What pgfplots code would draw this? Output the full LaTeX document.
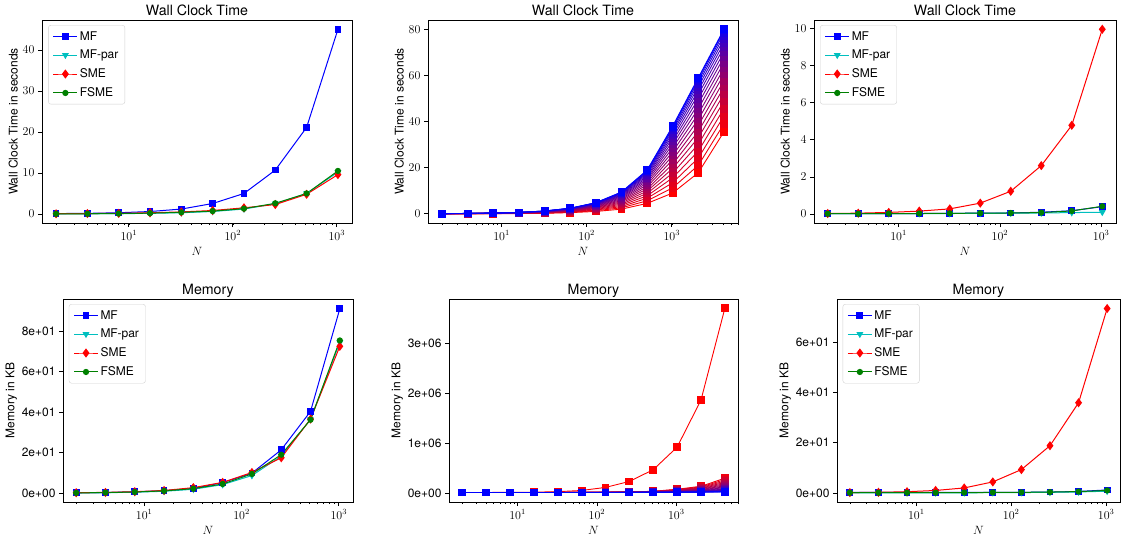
\documentclass[border=0pt]{standalone}
\usepackage{fontspec}
\setmainfont{TeX Gyre Heros}
\usepackage{pgfplots}
\usepackage{pgfplotstable}
\pgfplotsset{compat=1.18}

\definecolor{mplcyan}{RGB}{0,191,191}
\definecolor{mplgreen}{RGB}{0,128,0}

% N  MF  MF-par  SME  FSME
\pgfplotstableread{
N    MF    MFpar SME   FSME
2    0.10  0.02  0.05  0.03
4    0.15  0.04  0.10  0.05
8    0.30  0.08  0.15  0.10
16   0.60  0.15  0.30  0.20
32   1.20  0.30  0.50  0.40
64   2.55  0.60  0.85  0.70
128  5.00  1.20  1.50  1.30
256  10.7  2.50  2.30  2.60
512  21.1  5.00  4.80  5.00
1024 45.0  10.2  9.60  10.5
}\wallA

\pgfplotstableread{
N    MF    MFpar SME   FSME
2    0.02  0.02  0.03  0.02
4    0.02  0.02  0.05  0.02
8    0.03  0.02  0.09  0.03
16   0.03  0.03  0.16  0.03
32   0.04  0.03  0.28  0.04
64   0.05  0.04  0.59  0.05
128  0.06  0.05  1.23  0.06
256  0.10  0.06  2.61  0.08
512  0.18  0.08  4.78  0.17
1024 0.40  0.10  9.95  0.42
}\wallC

\pgfplotstableread{
N    MF    MFpar SME   FSME
2    0.15  0.10  0.20  0.12
4    0.30  0.20  0.35  0.25
8    0.60  0.45  0.70  0.55
16   1.20  0.90  1.30  1.10
32   2.30  1.90  2.70  2.20
64   5.20  4.20  5.30  4.50
128  9.90  8.70  10.2  9.50
256  21.4  18.3  17.5  19.0
512  40.4  36.5  36.6  36.3
1024 91.2  74.5  72.6  75.5
}\memA

\pgfplotstableread{
N    MF    MFpar SME   FSME
2    0.20  0.05  0.15  0.10
4    0.20  0.05  0.25  0.10
8    0.20  0.05  0.50  0.10
16   0.20  0.06  1.00  0.10
32   0.20  0.07  2.00  0.15
64   0.25  0.10  4.40  0.20
128  0.25  0.15  9.30  0.25
256  0.35  0.25  18.8  0.35
512  0.60  0.40  35.9  0.55
1024 1.20  0.70  73.4  1.00
}\memC

% fan of runs, c0 = red ... c19 = blue
\pgfplotstableread{
N c0 c1 c2 c3 c4 c5 c6 c7 c8 c9 c10 c11 c12 c13 c14 c15 c16 c17 c18 c19
2 0.02 0.025 0.029 0.034 0.038 0.042 0.046 0.05 0.054 0.057 0.06 0.064 0.067 0.069 0.072 0.074 0.076 0.078 0.079 0.08
4 0.03 0.04 0.05 0.06 0.07 0.07 0.08 0.09 0.10 0.10 0.11 0.12 0.12 0.13 0.13 0.14 0.14 0.15 0.15 0.15
8 0.05 0.07 0.09 0.11 0.13 0.14 0.16 0.18 0.19 0.21 0.22 0.23 0.24 0.26 0.27 0.28 0.28 0.29 0.30 0.30
16 0.10 0.14 0.18 0.21 0.25 0.28 0.32 0.35 0.38 0.41 0.44 0.46 0.49 0.51 0.53 0.55 0.57 0.58 0.59 0.60
32 0.20 0.28 0.35 0.43 0.50 0.57 0.63 0.70 0.76 0.82 0.87 0.93 0.98 1.02 1.07 1.10 1.14 1.17 1.19 1.20
64 0.50 0.65 0.79 0.93 1.07 1.20 1.33 1.45 1.56 1.67 1.78 1.88 1.97 2.06 2.14 2.22 2.28 2.34 2.38 2.40
128 1.00 1.30 1.59 1.86 2.14 2.40 2.65 2.89 3.13 3.35 3.56 3.76 3.95 4.13 4.29 4.43 4.56 4.67 4.75 4.80
256 2.00 2.58 3.14 3.68 4.21 4.72 5.21 5.69 6.14 6.57 6.99 7.38 7.74 8.09 8.40 8.68 8.93 9.15 9.31 9.40
512 4.50 5.62 6.72 7.77 8.81 9.80 10.75 11.67 12.56 13.40 14.21 14.97 15.67 16.35 16.96 17.50 17.99 18.41 18.73 18.90
1024 9.00 11.26 13.47 15.58 17.67 19.67 21.59 23.44 25.24 26.92 28.55 30.08 31.50 32.87 34.09 35.19 36.17 37.01 37.65 38.00
2048 17.80 21.01 24.15 27.15 30.12 32.96 35.68 38.32 40.87 43.26 45.57 47.75 49.77 51.71 53.44 55.00 56.40 57.60 58.51 59.00
4096 35.50 38.97 42.35 45.60 48.81 51.88 54.81 57.66 60.42 63.00 65.49 67.85 70.03 72.12 73.99 75.68 77.20 78.49 79.47 80.00
}\wallfan

\pgfplotstableread{
N c0 c1 c2 c3 c4 c5 c6 c7 c8 c9 c10 c11 c12 c13 c14 c15 c16 c17 c18 c19
2 25000 25000 25000 25000 25000 25000 25000 25000 25000 25000 25000 25000 25000 25000 25000 25000 25000 25000 25000 25000
4 26000 25000 25000 25000 25000 25000 25000 25000 25000 25000 25000 25000 25000 25000 25000 25000 25000 25000 25000 25000
8 28000 25000 25000 25000 25000 25000 25000 25000 25000 25000 25000 25000 25000 25000 25000 25000 25000 25000 25000 25000
16 32000 26000 25892 25790 25694 25605 25522 25444 25373 25309 25250 25198 25151 25111 25077 25049 25028 25012 25003 25000
32 42000 27000 26784 26580 26388 26210 26044 25888 25746 25618 25500 25396 25302 25222 25154 25098 25056 25024 25006 25000
64 66000 29000 28568 28160 27776 27420 27088 26776 26492 26236 26000 25792 25604 25444 25308 25196 25112 25048 25012 25000
128 127000 32000 31244 30530 29858 29235 28654 28108 27611 27163 26750 26386 26057 25777 25539 25343 25196 25084 25021 25000
256 246000 37000 35812 34690 33634 32655 31742 30884 30103 29399 28750 28178 27661 27221 26847 26539 26308 26132 26033 26000
512 480000 50000 47516 45170 42962 40915 39006 37212 35579 34107 32750 31554 30473 29553 28771 28127 27644 27276 27069 27000
1024 930000 90000 83520 77400 71640 66300 61320 56640 52380 48540 45000 41880 39060 36660 34620 32940 31680 30720 30180 30000
2048 1870000 150000 137472 125640 114504 104180 94552 85504 77268 69844 63000 56968 51516 46876 42932 39684 37248 35392 34348 34000
4096 3700000 310000 280840 253300 227380 203350 180940 159880 140710 123430 107500 93460 80770 69970 60790 53230 47560 43240 40810 40000
}\memfan

\pgfplotsset{
  mypanel/.style={
    scale only axis, anchor=north west,
    axis line style={black, line width=0.8pt},
    tick align=outside, tick pos=left,
    major tick length=4pt, minor tick length=2.2pt,
    major tick style={black, line width=0.8pt},
    minor tick style={black, line width=0.6pt},
    tick label style={font=\fontsize{12}{14}\selectfont},
    label style={font=\fontsize{12}{14}\selectfont},
    ylabel shift=-2pt,
    every axis title/.style={at={(0.5,1)}, anchor=base, yshift=4.5pt, font=\fontsize{14.2}{16}\selectfont},
    xlabel={$N$},
    scaled y ticks=false,
    legend cell align=left,
    legend style={at={(0.02,0.975)}, anchor=north west, draw=black!18, fill=white,
      rounded corners=2.5pt, font=\fontsize{12}{14}\selectfont, row sep=4.5pt,
      inner xsep=4.5pt, inner ysep=4pt},
    legend image code/.code={\draw[mark repeat=2,mark phase=2,##1] plot coordinates {(0pt,0pt)(12pt,0pt)(24pt,0pt)};},
  },
  sMF/.style={blue, mark=square*, mark size=2.9pt, line width=1pt},
  sMFpar/.style={mplcyan, mark=triangle*, mark options={rotate=180}, mark size=3pt, line width=1pt},
  sSME/.style={red, mark=diamond*, mark size=3.8pt, line width=1pt},
  sFSME/.style={mplgreen, mark=*, mark size=2.6pt, line width=1pt},
}

\begin{document}
\begin{tikzpicture}[x=1pt,y=1pt]
\useasboundingbox (0,0) rectangle (1127,-538);

% top left
\begin{axis}[xmode=log, mypanel, xmin=1.464, xmax=1399, at={(42pt,-20pt)}, width=310pt, height=203pt,
  title={Wall Clock Time}, ylabel={Wall Clock Time in seconds},
  ymin=-2.2, ymax=47.3, ytick={0,10,20,30,40}]
\addplot[sMF] table[x=N,y=MF]{\wallA};
\addlegendentry{MF}
\addplot[sMFpar] table[x=N,y=MFpar]{\wallA};
\addlegendentry{MF-par}
\addplot[sSME] table[x=N,y=SME]{\wallA};
\addlegendentry{SME}
\addplot[sFSME] table[x=N,y=FSME]{\wallA};
\addlegendentry{FSME}
\end{axis}

% top middle
\begin{axis}[xmode=log, mypanel, xmin=1.366, xmax=5995, at={(428pt,-20pt)}, width=310pt, height=203pt,
  title={Wall Clock Time}, ylabel={Wall Clock Time in seconds},
  ymin=-4, ymax=84, ytick={0,20,40,60,80}]
\foreach \k in {0,...,19}{
  \pgfmathtruncatemacro\p{100-\k*100/19}
  \edef\tmp{\noexpand\addplot[color=red!\p!blue, mark=square*, mark size=3.4pt, line width=0.9pt] table[x=N,y=c\k]{\noexpand\wallfan};}
  \tmp
}
\end{axis}

% top right
\begin{axis}[xmode=log, mypanel, xmin=1.464, xmax=1399, at={(814pt,-20pt)}, width=302pt, height=203pt,
  title={Wall Clock Time}, ylabel={Wall Clock Time in seconds},
  ymin=-0.48, ymax=10.45, ytick={0,2,4,6,8,10}]
\addplot[sMF] table[x=N,y=MF]{\wallC};
\addlegendentry{MF}
\addplot[sMFpar] table[x=N,y=MFpar]{\wallC};
\addlegendentry{MF-par}
\addplot[sSME] table[x=N,y=SME]{\wallC};
\addlegendentry{SME}
\addplot[sFSME] table[x=N,y=FSME]{\wallC};
\addlegendentry{FSME}
\end{axis}

% bottom left
\begin{axis}[xmode=log, mypanel, xmin=1.464, xmax=1399, at={(63pt,-299pt)}, width=290pt, height=203pt,
  title={Memory}, ylabel={Memory in KB},
  ymin=-4.4, ymax=96, ytick={0,20,40,60,80},
  yticklabels={0e+00,2e+01,4e+01,6e+01,8e+01}]
\addplot[sMF] table[x=N,y=MF]{\memA};
\addlegendentry{MF}
\addplot[sMFpar] table[x=N,y=MFpar]{\memA};
\addlegendentry{MF-par}
\addplot[sSME] table[x=N,y=SME]{\memA};
\addlegendentry{SME}
\addplot[sFSME] table[x=N,y=FSME]{\memA};
\addlegendentry{FSME}
\end{axis}

% bottom middle
\begin{axis}[xmode=log, mypanel, xmin=1.366, xmax=5995, at={(449pt,-299pt)}, width=289pt, height=203pt,
  title={Memory}, ylabel={Memory in KB},
  ymin=-164000, ymax=3884000, ytick={0,1000000,2000000,3000000},
  yticklabels={0e+00,1e+06,2e+06,3e+06}]
\foreach \k in {0,...,19}{
  \pgfmathtruncatemacro\p{100-\k*100/19}
  \edef\tmp{\noexpand\addplot[color=red!\p!blue, mark=square*, mark size=3.4pt, line width=0.9pt] table[x=N,y=c\k]{\noexpand\memfan};}
  \tmp
}
\end{axis}

% bottom right
\begin{axis}[xmode=log, mypanel, xmin=1.464, xmax=1399, at={(837pt,-299pt)}, width=283pt, height=203pt,
  title={Memory}, ylabel={Memory in KB},
  ymin=-3.6, ymax=77.2, ytick={0,20,40,60},
  yticklabels={0e+00,2e+01,4e+01,6e+01}]
\addplot[sMF] table[x=N,y=MF]{\memC};
\addlegendentry{MF}
\addplot[sMFpar] table[x=N,y=MFpar]{\memC};
\addlegendentry{MF-par}
\addplot[sSME] table[x=N,y=SME]{\memC};
\addlegendentry{SME}
\addplot[sFSME] table[x=N,y=FSME]{\memC};
\addlegendentry{FSME}
\end{axis}
\end{tikzpicture}
\end{document}
